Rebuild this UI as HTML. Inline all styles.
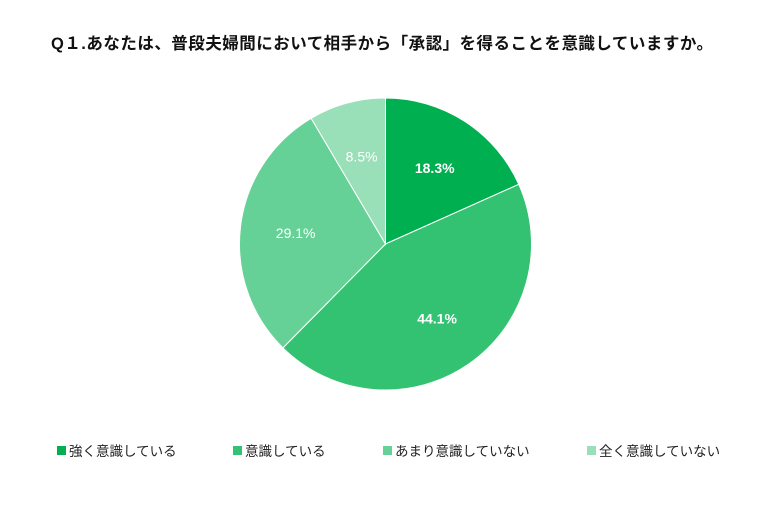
<!DOCTYPE html>
<html><head><meta charset="utf-8"><style>
body{margin:0;background:#fff;width:763px;height:503px;overflow:hidden;font-family:"Liberation Sans","Noto Sans CJK JP",sans-serif;}
</style></head><body>
<svg width="763" height="503" xmlns="http://www.w3.org/2000/svg">
<text x="51" y="49" font-size="16.5" font-weight="bold" fill="#111" font-family="Liberation Sans, Noto Sans CJK JP, sans-serif" textLength="662">Q１.あなたは、普段夫婦間において相手から「承認」を得ることを意識していますか。</text>
<g id="slices"></g>
<g id="legend"></g>
</svg>
<script>
const categories=["強く意識している","意識している","あまり意識していない","全く意識していない"];
const values=[18.3,44.1,29.1,8.5];
const labels=["18.3%","44.1%","29.1%","8.5%"];
const colors=["#00b050","#33c172","#66d196","#99e0b9"];
const legendX=[57,233,383,587];
const cx=385.5,cy=244,r=146;
const ns="http://www.w3.org/2000/svg";
const g=document.getElementById("slices");
const total=values.reduce((a,b)=>a+b,0);
let a0=0;
values.forEach((v,i)=>{
  const a1=a0+v/total*2*Math.PI;
  const p=(a)=>[cx+r*Math.sin(a),cy-r*Math.cos(a)];
  const [x0,y0]=p(a0),[x1,y1]=p(a1);
  const path=document.createElementNS(ns,"path");
  path.setAttribute("d",`M${cx},${cy}L${x0},${y0}A${r},${r} 0 ${a1-a0>Math.PI?1:0} 1 ${x1},${y1}Z`);
  path.setAttribute("fill",colors[i]);
  path.setAttribute("stroke","#fff");
  path.setAttribute("stroke-width","1");
  
  
  g.appendChild(path);
  const am=(a0+a1)/2,lr=r*0.62;
  const t=document.createElementNS(ns,"text");
  t.setAttribute("x",cx+lr*Math.sin(am));
  t.setAttribute("y",cy-lr*Math.cos(am)+5);
  t.setAttribute("text-anchor","middle");
  t.setAttribute("font-size","14");
  t.setAttribute("fill","#fff");
  if(i<2)t.setAttribute("font-weight","bold");
  t.textContent=labels[i];
  
  
  g.appendChild(t);
  a0=a1;
});
const lg=document.getElementById("legend");
categories.forEach((c,i)=>{
  const ent=document.createElementNS(ns,"g");
  
  
  const rc=document.createElementNS(ns,"rect");
  rc.setAttribute("x",legendX[i]);rc.setAttribute("y",446);
  rc.setAttribute("width",9);rc.setAttribute("height",9);
  rc.setAttribute("fill",colors[i]);
  
  
  const t=document.createElementNS(ns,"text");
  t.setAttribute("x",legendX[i]+12);t.setAttribute("y",456);
  t.setAttribute("font-size","13.5");t.setAttribute("fill","#222");
  t.textContent=c;
  
  
  ent.appendChild(rc);ent.appendChild(t);lg.appendChild(ent);
});
</script>
</body></html>
